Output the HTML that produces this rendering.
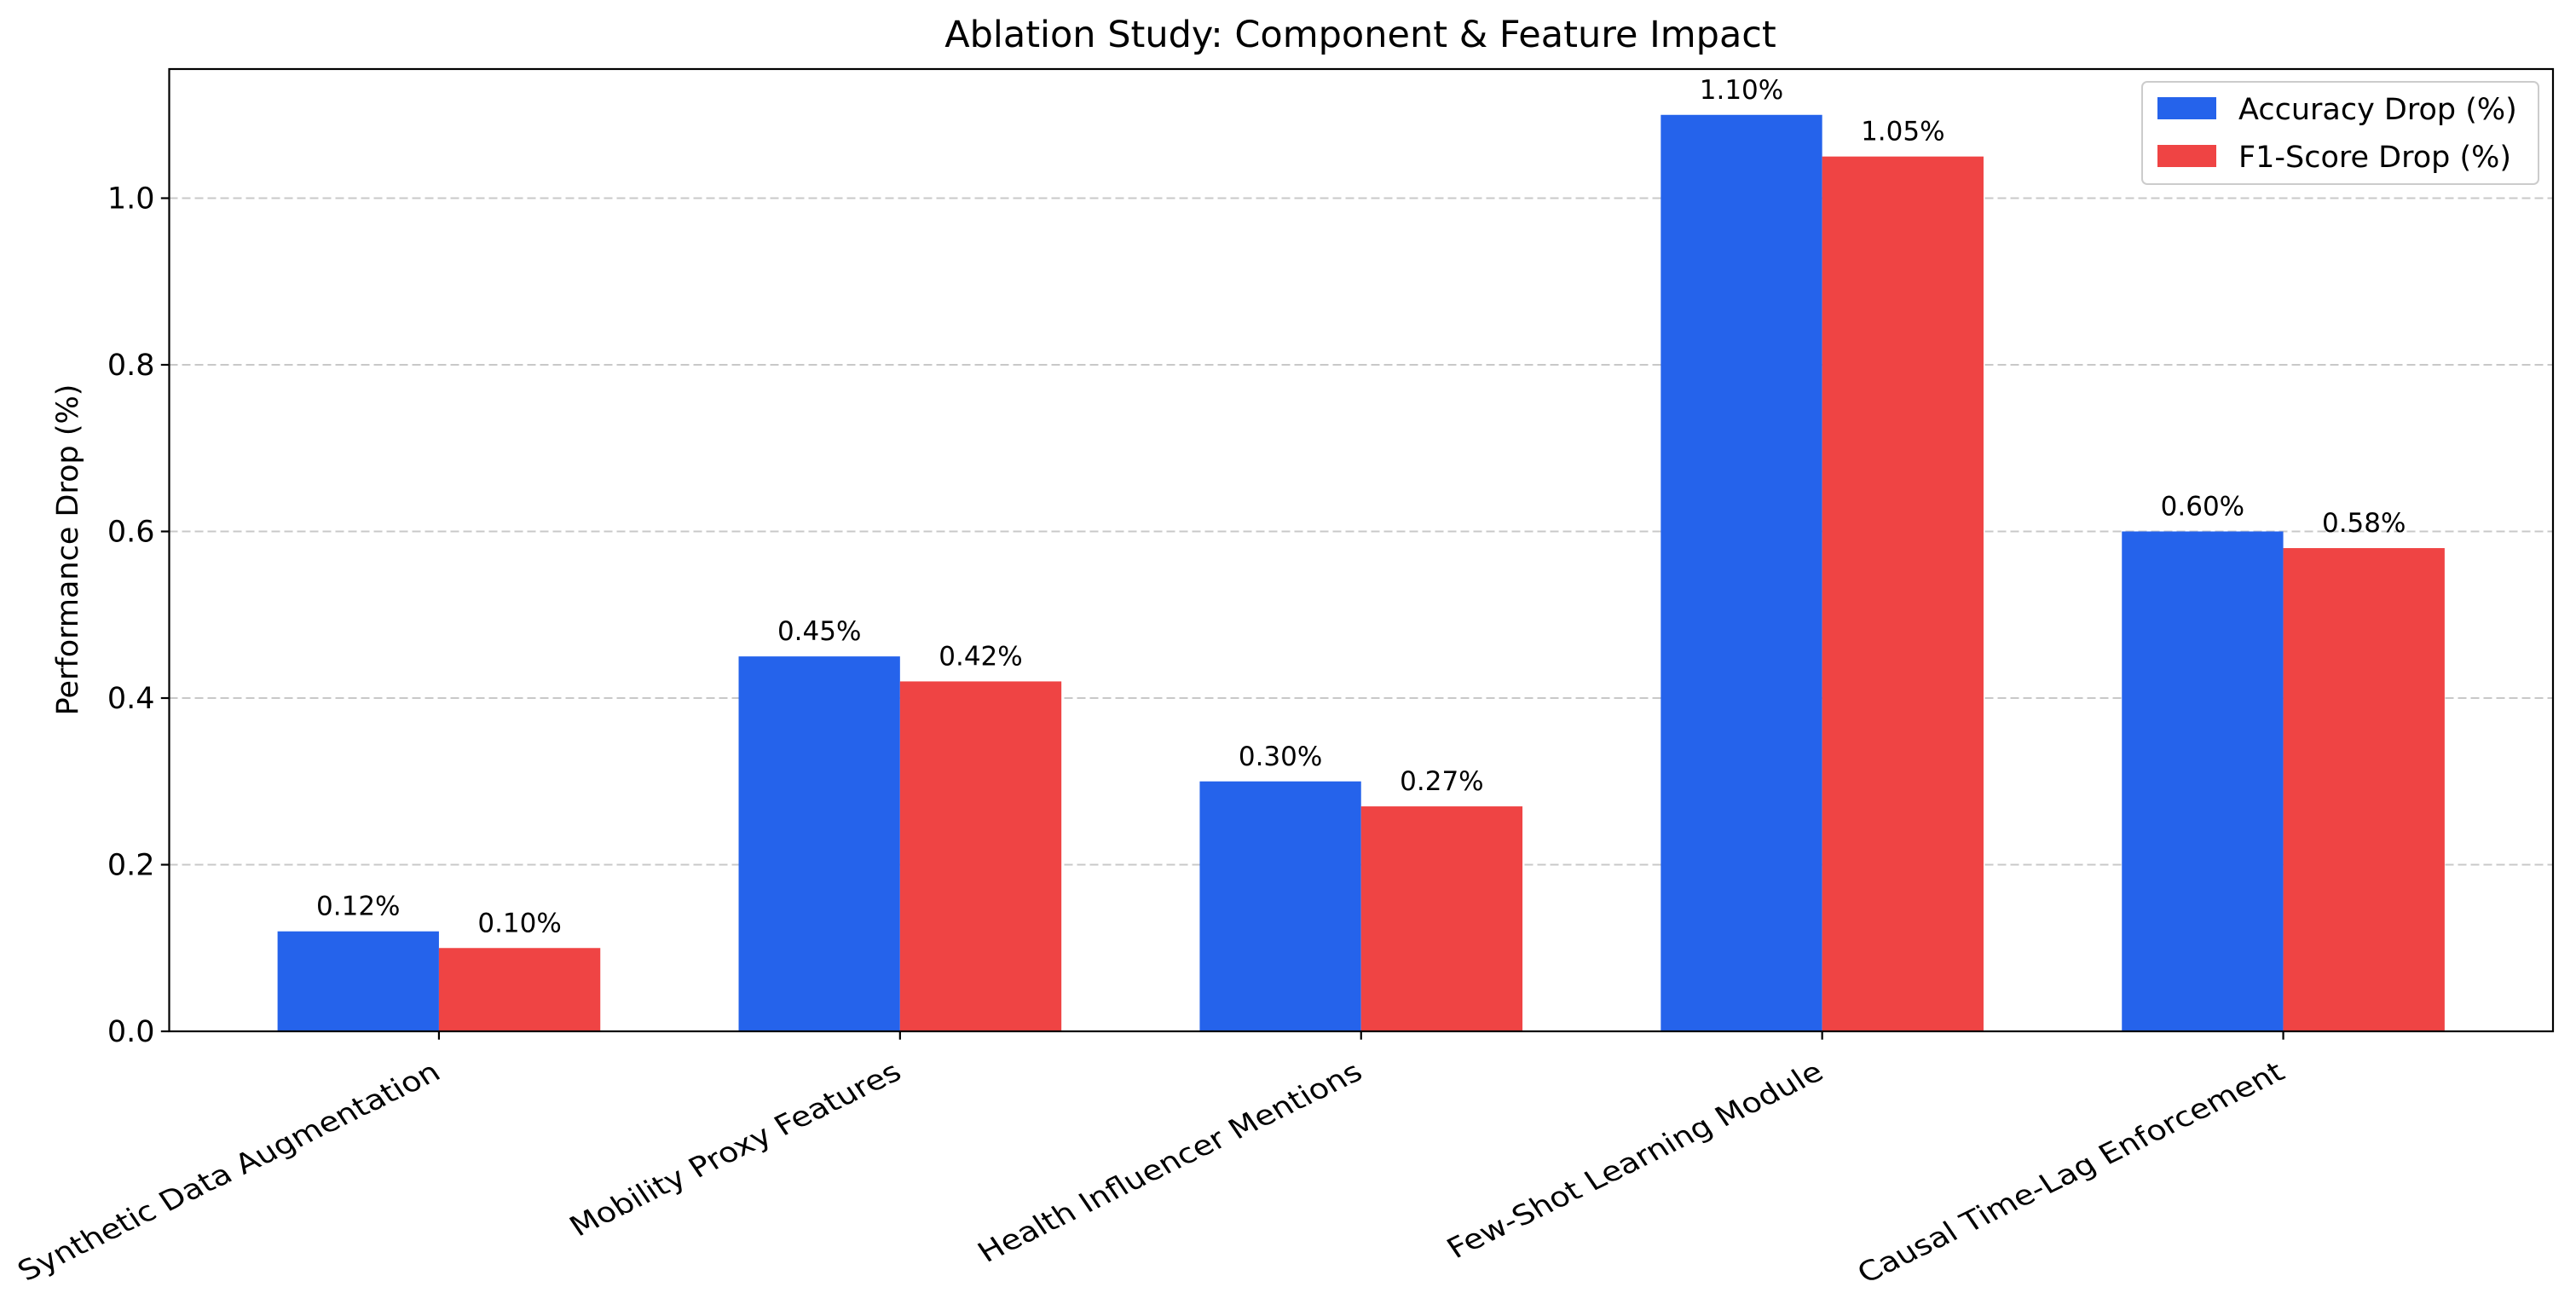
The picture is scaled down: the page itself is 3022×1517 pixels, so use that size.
<!DOCTYPE html>
<html><head><meta charset="utf-8"><style>
html,body{margin:0;padding:0;background:#fff;}
svg{display:block;font-family:"DejaVu Sans","Liberation Sans",sans-serif;}
</style></head><body>
<svg id="chart" width="3022" height="1517" viewBox="0 0 3022 1517" xmlns="http://www.w3.org/2000/svg">
<rect width="3022" height="1517" fill="#fff"/>
<text x="1596" y="55" font-size="43" text-anchor="middle" fill="#000">Ablation Study: Component &amp; Feature Impact</text>
<text transform="translate(91,645) rotate(-90)" font-size="35" text-anchor="middle" fill="#000">Performance Drop (%)</text>
<g id="grid"></g><g id="bars"></g><g id="labels"></g><g id="axes"></g>
<g>
<rect x="2513" y="96" width="465" height="120" rx="6" fill="#fff" fill-opacity="0.8" stroke="#ccc" stroke-width="2"/>
<rect x="2531" y="114" width="69" height="26" fill="#2563eb"/>
<text x="2626" y="140" font-size="35" fill="#000">Accuracy Drop (%)</text>
<rect x="2531" y="170" width="69" height="26" fill="#ef4444"/>
<text x="2626" y="196" font-size="35" fill="#000">F1-Score Drop (%)</text>
</g>
</svg>
<script>
const categories = ["Synthetic Data Augmentation","Mobility Proxy Features","Health Influencer Mentions","Few-Shot Learning Module","Causal Time-Lag Enforcement"];
const accuracyDrop = [0.12,0.45,0.30,1.10,0.60];
const f1Drop = [0.10,0.42,0.27,1.05,0.58];
const yTicks = [0.0,0.2,0.4,0.6,0.8,1.0];

const NS="http://www.w3.org/2000/svg";
const L=198.5,R=2995,T=81,B=1210;
const yMax=Math.max(...accuracyDrop,...f1Drop)*1.05;
const xMin=-0.585,xMax=categories.length-1+0.585;
const xs=v=>L+(v-xMin)/(xMax-xMin)*(R-L);
const ys=v=>B-v/yMax*(B-T);
function mk(tag,attrs,parent,text){const e=document.createElementNS(NS,tag);for(const k in attrs)e.setAttribute(k,attrs[k]);if(text!==undefined)e.textContent=text;document.getElementById(parent).appendChild(e);return e;}
yTicks.forEach(t=>{
  if(t>0){const g=mk('line',{x1:L,x2:R,y1:ys(t),y2:ys(t),stroke:'#c8c8c8','stroke-width':2,'stroke-dasharray':'10,5'},'grid');
  
  }
  const tk=mk('line',{x1:L-9.7,x2:L,y1:ys(t),y2:ys(t),stroke:'#000','stroke-width':2.2},'axes');
  
  
  const tl=mk('text',{x:L-17,y:ys(t)+12,'font-size':35,'text-anchor':'end',fill:'#000'},'axes',t.toFixed(1));
  
  
});
const bw=0.35*(xs(1)-xs(0));
categories.forEach((c,i)=>{
  const cx=xs(i);
  [[accuracyDrop[i],'#2563eb',cx-bw,'accuracy'],[f1Drop[i],'#ef4444',cx,'f1']].forEach(([v,col,x0,s])=>{
    const r=mk('rect',{x:x0,y:ys(v),width:bw,height:B-ys(v),fill:col},'bars');
    
    
    const t=mk('text',{x:x0+bw/2,y:ys(v)-19,'font-size':31,'text-anchor':'middle',fill:'#000'},'labels',v.toFixed(2)+'%');
    
    
  });
  const tk=mk('line',{x1:cx,x2:cx,y1:B,y2:B+9.7,stroke:'#000','stroke-width':2.2},'axes');
  
  
  const tl=mk('text',{transform:`translate(${cx+4},${B+54}) scale(1,0.85) rotate(-30)`,'font-size':38,'text-anchor':'end',fill:'#000'},'axes',c);
  
  
});
const fr=mk('rect',{x:L,y:T,width:R-L,height:B-T,fill:'none',stroke:'#000','stroke-width':2.2},'axes');


</script>
</body></html>
